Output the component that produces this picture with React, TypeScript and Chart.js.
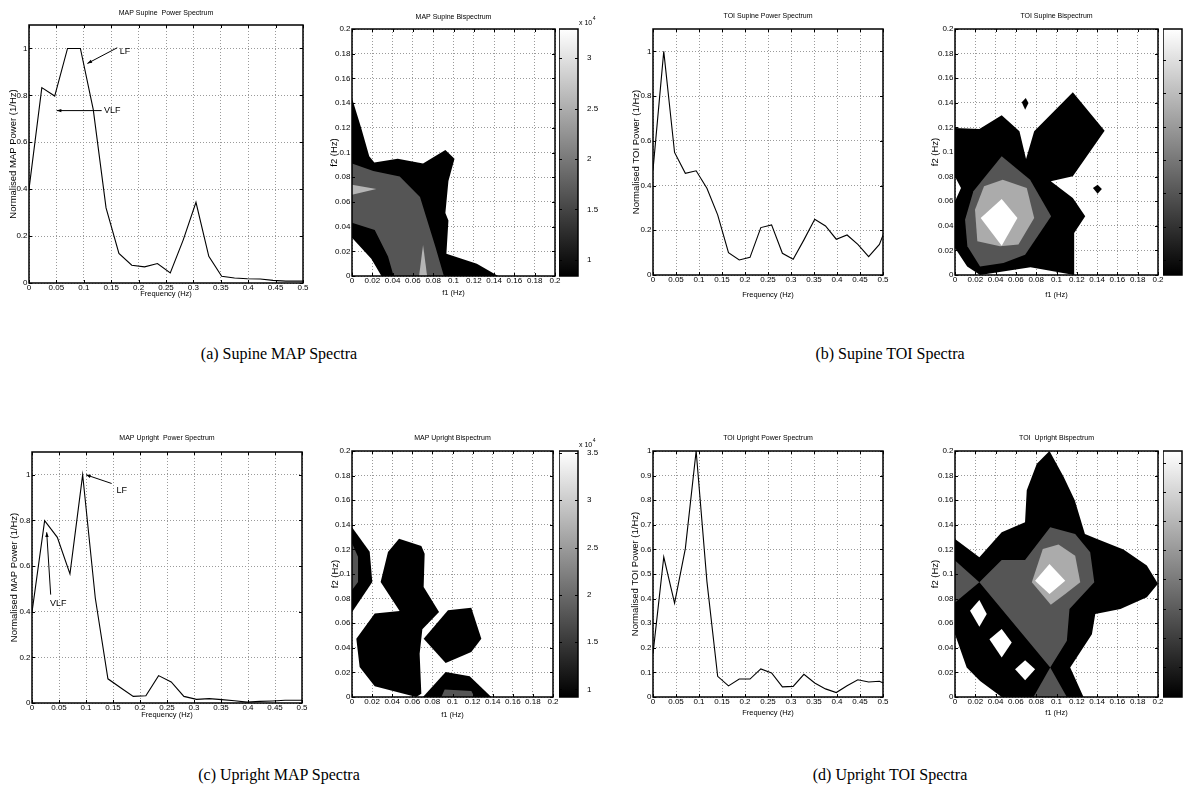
import React, { useEffect, useRef } from 'react';
import { Chart, registerables } from 'chart.js';

Chart.register(...registerables);

// ------------------------------------------------------------------ data
const FREQ = [0, 0.0234, 0.0469, 0.0703, 0.0938, 0.1172, 0.1406, 0.1641, 0.1875, 0.2109, 0.2344, 0.2578, 0.2813, 0.3047, 0.3281, 0.3516, 0.375, 0.3984, 0.4219, 0.4453, 0.4688, 0.4922, 0.5156];
const MAP_SUPINE_POWER = [0.40, 0.833, 0.797, 1.0, 1.0, 0.74, 0.32, 0.126, 0.076, 0.069, 0.083, 0.043, 0.183, 0.344, 0.114, 0.029, 0.021, 0.018, 0.017, 0.011, 0.008, 0.008, 0.008];
const MAP_UPRIGHT_POWER = [0.398, 0.799, 0.726, 0.566, 1.0, 0.46, 0.106, 0.067, 0.029, 0.032, 0.12, 0.092, 0.029, 0.016, 0.019, 0.015, 0.01, 0.004, 0.007, 0.009, 0.012, 0.012, 0.012];
const TOI_SUPINE_POWER = [0.47, 1.0, 0.548, 0.455, 0.466, 0.388, 0.269, 0.10, 0.067, 0.079, 0.212, 0.224, 0.097, 0.07, 0.157, 0.249, 0.219, 0.16, 0.179, 0.137, 0.082, 0.137, 0.26];
const TOI_UPRIGHT_POWER = [0.176, 0.569, 0.382, 0.603, 1.0, 0.47, 0.084, 0.045, 0.073, 0.073, 0.114, 0.098, 0.041, 0.043, 0.092, 0.057, 0.033, 0.018, 0.046, 0.07, 0.061, 0.064, 0.045];

const FREQ_TICKS = [0, 0.05, 0.1, 0.15, 0.2, 0.25, 0.3, 0.35, 0.4, 0.45, 0.5];
const POWER_TICKS = [0, 0.2, 0.4, 0.6, 0.8, 1];
const POWER_TICKS_FINE = [0, 0.1, 0.2, 0.3, 0.4, 0.5, 0.6, 0.7, 0.8, 0.9, 1];
const BISPEC_TICKS = [0, 0.02, 0.04, 0.06, 0.08, 0.1, 0.12, 0.14, 0.16, 0.18, 0.2];

const MAP_SUPINE_CB_TICKS = [1, 1.5, 2, 2.5, 3];
const MAP_SUPINE_CB_RANGE = [0.84, 3.29];
const MAP_UPRIGHT_CB_TICKS = [1, 1.5, 2, 2.5, 3, 3.5];
const MAP_UPRIGHT_CB_RANGE = [0.92, 3.52];
const TOI_SUPINE_CB_TICKS = [20, 30, 40, 50, 60, 70, 80];
const TOI_SUPINE_CB_RANGE = [15.5, 89.3];
const TOI_UPRIGHT_CB_TICKS = [30, 40, 50, 60, 70, 80, 90, 100, 110];
const TOI_UPRIGHT_CB_RANGE = [29.7, 114];

// bispectrum contour regions, [f1, f2] in Hz
const MAP_SUPINE_L1 = [[0, 0.144], [0.009, 0.12], [0.017, 0.097], [0.022, 0.092], [0.045, 0.095], [0.07, 0.091], [0.092, 0.102], [0.101, 0.095], [0.095, 0.077], [0.092, 0.051], [0.095, 0.045], [0.093, 0.018], [0.123, 0.01], [0.144, 0], [0.029, 0], [0.019, 0.014], [0, 0.031]];
const MAP_SUPINE_L2 = [[0, 0.091], [0.021, 0.085], [0.047, 0.0805], [0.067, 0.064], [0.073, 0.048], [0.082, 0.024], [0.0905, 0], [0.041, 0], [0.0355, 0.0157], [0.0224, 0.0373], [0, 0.0432]];
const MAP_SUPINE_L3A = [[0, 0.0738], [0.024, 0.0705], [0, 0.0657]];
const MAP_SUPINE_L3B = [[0.0661, 0], [0.07, 0.0251], [0.074, 0]];

const MAP_UPRIGHT_L1A = [[0, 0.138], [0.0176, 0.118], [0.0202, 0.0935], [0, 0.069]];
const MAP_UPRIGHT_L2A = [[0, 0.125], [0.006, 0.114], [0.006, 0.0935], [0, 0.087]];
const MAP_UPRIGHT_L1B = [[0.0474, 0.0699], [0.0285, 0.0935], [0.0358, 0.1179], [0.0468, 0.1287], [0.069, 0.1228], [0.0723, 0.1165], [0.0713, 0.0894], [0.0866, 0.0691], [0.07, 0.055], [0.0673, 0.0352], [0.069, 0.0027], [0.064, 0], [0.0226, 0.0087], [0.0076, 0.0244], [0.0043, 0.0474], [0.0226, 0.0678]];
const MAP_UPRIGHT_L1C = [[0.0713, 0.0474], [0.0955, 0.0705], [0.1187, 0.0726], [0.1287, 0.0474], [0.1187, 0.0366], [0.0932, 0.0276]];
const MAP_UPRIGHT_L1D = [[0.0706, 0], [0.0932, 0.0203], [0.1171, 0.0168], [0.1386, 0]];
const MAP_UPRIGHT_L2B = [[0.0889, 0], [0.0922, 0.006], [0.1187, 0.0049], [0.122, 0]];

const TOI_SUPINE_L1 = [[0, 0.1195], [0.024, 0.1187], [0.046, 0.1298], [0.0635, 0.1168], [0.07, 0.0943], [0.078, 0.1168], [0.1161, 0.1485], [0.1474, 0.1173], [0.1161, 0.0802], [0.0944, 0.0762], [0.1161, 0.0626], [0.1283, 0.0477], [0.1174, 0.0341], [0.1174, 0], [0.0744, 0.0062], [0.0247, 0], [0.012, 0.007], [0, 0.022], [0, 0.0599], [0.0059, 0.0707], [0, 0.0799]];
const TOI_SUPINE_L1B = [[0.0697, 0.1439], [0.0724, 0.1398], [0.0691, 0.1344], [0.0658, 0.1404]];
const TOI_SUPINE_L1C = [[0.1359, 0.0707], [0.1405, 0.0734], [0.1447, 0.0699], [0.1405, 0.0661]];
const TOI_SUPINE_L2 = [[0.0099, 0.045], [0.0181, 0.068], [0.046, 0.0965], [0.074, 0.0775], [0.0947, 0.0477], [0.0691, 0.0165], [0.0477, 0.0098], [0.0247, 0.007], [0.0122, 0.0233]];
const TOI_SUPINE_L3 = [[0.0197, 0.0531], [0.0286, 0.0721], [0.047, 0.0775], [0.0707, 0.0707], [0.078, 0.0463], [0.0625, 0.0247], [0.0444, 0.0233], [0.022, 0.0274]];
const TOI_SUPINE_L4 = [[0.0253, 0.0463], [0.046, 0.0618], [0.0615, 0.0463], [0.046, 0.0238]];

const TOI_UPRIGHT_L1 = [[0.0931, 0.2], [0.0806, 0.1897], [0.0707, 0.168], [0.069, 0.142], [0.046, 0.134], [0.024, 0.1136], [0, 0.1285], [0, 0.051], [0.0115, 0.0239], [0.0247, 0.013], [0.046, 0], [0.1266, 0], [0.1135, 0.0239], [0.1349, 0.0511], [0.1382, 0.0674], [0.163, 0.0715], [0.189, 0.081], [0.2, 0.092], [0.189, 0.107], [0.166, 0.12], [0.14, 0.1285], [0.128, 0.1326], [0.118, 0.16], [0.107, 0.179]];
const TOI_UPRIGHT_L2A = [[0.024, 0.0932], [0.046, 0.1114], [0.069, 0.1114], [0.0938, 0.138], [0.1184, 0.1326], [0.1332, 0.1177], [0.1372, 0.0932], [0.1128, 0.0715], [0.1102, 0.0457], [0.0938, 0.0239]];
const TOI_UPRIGHT_L2B = [[0, 0.1109], [0.024, 0.0932], [0, 0.0769]];
const TOI_UPRIGHT_L2C = [[0.0938, 0.0239], [0.1102, 0], [0.0773, 0]];
const TOI_UPRIGHT_L3 = [[0.0757, 0.0932], [0.0865, 0.1204], [0.102, 0.1239], [0.1184, 0.1149], [0.1234, 0.0932], [0.1086, 0.0837], [0.0944, 0.075]];
const TOI_UPRIGHT_L4 = [[0.0789, 0.0946], [0.0931, 0.1082], [0.1086, 0.0946], [0.0931, 0.0837]];
const TOI_UPRIGHT_W1 = [[0.0148, 0.0701], [0.024, 0.0788], [0.0313, 0.0674], [0.024, 0.0571]];
const TOI_UPRIGHT_W2 = [[0.0339, 0.047], [0.046, 0.0552], [0.0559, 0.0443], [0.046, 0.0321]];
const TOI_UPRIGHT_W3 = [[0.0592, 0.0226], [0.0691, 0.0299], [0.0789, 0.0226], [0.0691, 0.0136]];

const MAP_SUPINE_NOTES = [
  { label: 'LF', tx: 0.175, ty: 0.987, x1: 0.161, y1: 1.003, x2: 0.1065, y2: 0.936 },
  { label: 'VLF', tx: 0.152, ty: 0.735, x1: 0.1326, y1: 0.735, x2: 0.0505, y2: 0.735 },
];
const MAP_UPRIGHT_NOTES = [
  { label: 'LF', tx: 0.166, ty: 0.93, x1: 0.1475, y1: 0.962, x2: 0.1, y2: 1.0 },
  { label: 'VLF', tx: 0.0488, ty: 0.435, x1: 0.0346, y1: 0.475, x2: 0.0272, y2: 0.748 },
];

const CAPTIONS = ['(a) Supine MAP Spectra', '(b) Supine TOI Spectra', '(c) Upright MAP Spectra', '(d) Upright TOI Spectra'];

// ------------------------------------------------------------------ styles
const NARROW = "'Liberation Sans Narrow', 'Arial Narrow', 'Liberation Sans', Arial, sans-serif";
const SANS = "'Liberation Sans', Arial, sans-serif";
const SERIF = "'Liberation Serif', 'Times New Roman', Times, serif";
const GRID = '#9a9a9a';
const C_BLACK = '#000000';
const C_DARK = '#555555';
const C_LIGHT = '#ababab';
const C_WHITE = '#ffffff';

const fmt = (v: any) => String(parseFloat(Number(v).toFixed(4)));

// ------------------------------------------------------------------ plugins
const framePlugin = {
  id: 'frame',
  afterDatasetsDraw(chart: any, _args: any, opts: any) {
    const { ctx, chartArea: a } = chart;
    const len = 3;
    ctx.save();
    ctx.strokeStyle = '#000';
    ctx.lineWidth = 1;
    ctx.beginPath();
    const xs = chart.scales.x;
    const ys = chart.scales.y;
    if (opts.xTicks !== false && xs) {
      for (const t of xs.ticks) {
        const p = Math.round(xs.getPixelForValue(t.value)) + 0.5;
        ctx.moveTo(p, a.bottom); ctx.lineTo(p, a.bottom - len);
        ctx.moveTo(p, a.top); ctx.lineTo(p, a.top + len);
      }
    }
    if (ys) {
      for (const t of ys.ticks) {
        const p = Math.round(ys.getPixelForValue(t.value)) + 0.5;
        ctx.moveTo(a.left, p); ctx.lineTo(a.left + len, p);
        ctx.moveTo(a.right, p); ctx.lineTo(a.right - len, p);
      }
    }
    ctx.stroke();
    ctx.lineWidth = opts.width || 1.5;
    ctx.strokeRect(a.left, a.top, a.right - a.left, a.bottom - a.top);
    ctx.restore();
  },
};

function notesPlugin(items: any[]) {
  return {
    id: 'notes',
    afterDatasetsDraw(chart: any) {
      const { ctx } = chart;
      const xs = chart.scales.x;
      const ys = chart.scales.y;
      ctx.save();
      ctx.strokeStyle = '#000';
      ctx.fillStyle = '#000';
      ctx.lineWidth = 1;
      for (const n of items) {
        const x1 = xs.getPixelForValue(n.x1), y1 = ys.getPixelForValue(n.y1);
        const x2 = xs.getPixelForValue(n.x2), y2 = ys.getPixelForValue(n.y2);
        ctx.beginPath(); ctx.moveTo(x1, y1); ctx.lineTo(x2, y2); ctx.stroke();
        const ang = Math.atan2(y2 - y1, x2 - x1);
        ctx.beginPath();
        ctx.moveTo(x2, y2);
        ctx.lineTo(x2 - 5 * Math.cos(ang - 0.35), y2 - 5 * Math.sin(ang - 0.35));
        ctx.lineTo(x2 - 5 * Math.cos(ang + 0.35), y2 - 5 * Math.sin(ang + 0.35));
        ctx.closePath(); ctx.fill();
        ctx.font = `9px ${NARROW}`;
        ctx.textAlign = 'center';
        ctx.textBaseline = 'middle';
        ctx.fillText(n.label, xs.getPixelForValue(n.tx), ys.getPixelForValue(n.ty));
      }
      ctx.restore();
    },
  };
}

function expPlugin(show: boolean) {
  return {
    id: 'expLabel',
    afterDraw(chart: any) {
      if (!show) return;
      const { ctx, chartArea: a } = chart;
      ctx.save();
      ctx.fillStyle = '#000';
      ctx.textAlign = 'left';
      ctx.textBaseline = 'middle';
      ctx.font = `7px ${NARROW}`;
      ctx.fillText('x 10', a.right + 1, a.top - 6);
      const w = ctx.measureText('x 10').width;
      ctx.font = `5px ${NARROW}`;
      ctx.fillText('4', a.right + 1.5 + w, a.top - 10);
      ctx.restore();
    },
  };
}

// ------------------------------------------------------------------ layout
type Geo = { L: number; T: number; R: number; B: number; titleY: number; yTitleX: number; xTitleY: number };
const PAD_R = 12;

function boxFor(g: Geo) {
  const x = g.yTitleX - 8;
  const y = g.titleY - 6;
  return { x, y, w: g.R + PAD_R - x, h: g.xTitleY + 7 - y };
}

function axis(isX: boolean, ticks: number[], min: number, max: number, title: string, g: Geo, box: any) {
  return {
    type: 'linear',
    min,
    max,
    afterBuildTicks: (s: any) => { s.ticks = ticks.map((v) => ({ value: v })); },
    afterFit: (s: any) => {
      if (isX) s.height = box.y + box.h - g.B;
      else s.width = g.L - box.x;
    },
    grid: { color: GRID, lineWidth: 1, drawTicks: false },
    border: { display: false, dash: [1, 2] },
    ticks: {
      autoSkip: false,
      maxRotation: 0,
      minRotation: 0,
      padding: isX ? 1 : 1.5,
      color: '#000',
      font: { family: NARROW, size: 8, lineHeight: 1 },
      callback: (v: any) => fmt(v),
    },
    title: {
      display: true,
      text: title,
      color: '#000',
      font: isX ? { family: NARROW, size: 7.5, lineHeight: 1 } : { family: SANS, size: 9.5, lineHeight: 1 },
      padding: isX ? { top: 0, bottom: 3 } : { top: 3.25, bottom: 0 },
    },
  };
}

function baseOptions(g: Geo, box: any, title: string, scales: any) {
  return {
    responsive: false,
    animation: false,
    devicePixelRatio: 1,
    events: [],
    layout: { padding: { left: 0, top: 0, right: PAD_R, bottom: 0 } },
    plugins: {
      legend: { display: false },
      tooltip: { enabled: false },
      frame: { width: 1.5 },
      title: {
        display: true,
        text: title,
        color: '#000',
        fullSize: false,
        font: { family: NARROW, size: 7, lineHeight: 1, weight: 'normal' },
        padding: { top: 2.5, bottom: g.T - box.y - 9.5 },
      },
    },
    scales,
  };
}

function spectrumConfig(g: Geo, title: string, ylabel: string, values: number[], yTicks: number[], yMax: number, notes: any[]) {
  const box = boxFor(g);
  return {
    box,
    make: () => ({
      type: 'line',
      data: {
        datasets: [{
          data: FREQ.map((f, i) => ({ x: f, y: values[i] })),
          borderColor: '#000',
          borderWidth: 1.1,
          pointRadius: 0,
          fill: false,
          tension: 0,
        }],
      },
      options: baseOptions(g, box, title, {
        x: axis(true, FREQ_TICKS, 0, 0.5, 'Frequency (Hz)', g, box),
        y: axis(false, yTicks, 0, yMax, ylabel, g, box),
      }),
      plugins: [framePlugin, notesPlugin(notes)],
    }),
  };
}

function contourConfig(g: Geo, title: string, layers: { pts: number[][]; color: string }[]) {
  const box = boxFor(g);
  const n = layers.length;
  return {
    box,
    make: () => ({
      type: 'line',
      data: {
        datasets: layers.map((l, i) => ({
          data: l.pts.map(([x, y]) => ({ x, y })),
          backgroundColor: l.color,
          borderColor: l.color,
          borderWidth: 0,
          pointRadius: 0,
          fill: 'shape',
          tension: 0,
          order: n - i,
        })),
      },
      options: baseOptions(g, box, title, {
        x: axis(true, BISPEC_TICKS, 0, 0.2, 'f1 (Hz)', g, box),
        y: axis(false, BISPEC_TICKS, 0, 0.2, 'f2 (Hz)', g, box),
      }),
      plugins: [framePlugin],
    }),
  };
}

type CB = { L: number; T: number; R: number; B: number };
function colorbarConfig(cb: CB, ticks: number[], range: number[], labelSize: number, labelPad: number, showExp: boolean) {
  const box = { x: cb.L, y: cb.T - 14, w: cb.R - cb.L + 24, h: cb.B - cb.T + 20 };
  return {
    box,
    make: () => ({
      type: 'bar',
      data: {
        labels: [''],
        datasets: [{
          data: [[range[0], range[1]]],
          borderWidth: 0,
          barPercentage: 1,
          categoryPercentage: 1,
          backgroundColor: (c: any) => {
            const a = c.chart.chartArea;
            if (!a) return '#888';
            const gr = c.chart.ctx.createLinearGradient(0, a.bottom, 0, a.top);
            gr.addColorStop(0, '#000');
            gr.addColorStop(1, '#fff');
            return gr;
          },
        }],
      },
      options: {
        responsive: false,
        animation: false,
        devicePixelRatio: 1,
        events: [],
        layout: { padding: { left: 0, right: 0, top: 14, bottom: 6 } },
        plugins: { legend: { display: false }, tooltip: { enabled: false }, frame: { xTicks: false, width: 1.5 } },
        scales: {
          x: { display: false },
          y: {
            position: 'right',
            min: range[0],
            max: range[1],
            afterBuildTicks: (s: any) => { s.ticks = ticks.map((v) => ({ value: v })); },
            afterFit: (s: any) => { s.width = 24; },
            grid: { display: false },
            border: { display: false },
            ticks: { autoSkip: false, padding: labelPad, color: '#000', font: { family: NARROW, size: labelSize, lineHeight: 1 }, callback: (v: any) => fmt(v) },
          },
        },
      },
      plugins: [framePlugin, expPlugin(showExp)],
    }),
  };
}

// ------------------------------------------------------------------ panels
const G1: Geo = { L: 29, T: 25, R: 303, B: 283, titleY: 13, yTitleX: 13, xTitleY: 294 };
const G2: Geo = { L: 352, T: 29, R: 555, B: 276, titleY: 17, yTitleX: 334, xTitleY: 293 };
const G3: Geo = { L: 653, T: 29, R: 883, B: 275, titleY: 16, yTitleX: 636, xTitleY: 295 };
const G4: Geo = { L: 955, T: 29, R: 1158, B: 275, titleY: 16, yTitleX: 935, xTitleY: 295 };
const G5: Geo = { L: 32, T: 452, R: 302, B: 703, titleY: 438, yTitleX: 14, xTitleY: 715 };
const G6: Geo = { L: 352, T: 451, R: 553, B: 697, titleY: 438, yTitleX: 335, xTitleY: 715 };
const G7: Geo = { L: 653, T: 451, R: 883, B: 697, titleY: 438, yTitleX: 635, xTitleY: 713 };
const G8: Geo = { L: 955, T: 451, R: 1158, B: 697, titleY: 438, yTitleX: 935, xTitleY: 713 };
const CB2: CB = { L: 559, T: 29, R: 578, B: 276 };
const CB4: CB = { L: 1163, T: 29, R: 1182, B: 275 };
const CB6: CB = { L: 559, T: 451, R: 578, B: 697 };
const CB8: CB = { L: 1163, T: 451, R: 1182, B: 697 };
const CAPTION_POS = [{ cx: 279, cy: 354 }, { cx: 890, cy: 354 }, { cx: 279, cy: 775 }, { cx: 890, cy: 775 }];

const PANELS = [
  spectrumConfig(G1, 'MAP Supine  Power Spectrum', 'Normalised MAP Power (1/Hz)', MAP_SUPINE_POWER, POWER_TICKS, 1.1, MAP_SUPINE_NOTES),
  contourConfig(G2, 'MAP Supine Bispectrum', [
    { pts: MAP_SUPINE_L1, color: C_BLACK },
    { pts: MAP_SUPINE_L2, color: C_DARK },
    { pts: MAP_SUPINE_L3A, color: '#b5b5b5' },
    { pts: MAP_SUPINE_L3B, color: '#b5b5b5' },
  ]),
  colorbarConfig(CB2, MAP_SUPINE_CB_TICKS, MAP_SUPINE_CB_RANGE, 8, 1, true),
  spectrumConfig(G3, 'TOI Supine Power Spectrum', 'Normalised TOI Power (1/Hz)', TOI_SUPINE_POWER, POWER_TICKS, 1.1, []),
  contourConfig(G4, 'TOI Supine Bispectrum', [
    { pts: TOI_SUPINE_L1, color: C_BLACK },
    { pts: TOI_SUPINE_L1B, color: C_BLACK },
    { pts: TOI_SUPINE_L1C, color: C_BLACK },
    { pts: TOI_SUPINE_L2, color: C_DARK },
    { pts: TOI_SUPINE_L3, color: C_LIGHT },
    { pts: TOI_SUPINE_L4, color: C_WHITE },
  ]),
  colorbarConfig(CB4, TOI_SUPINE_CB_TICKS, TOI_SUPINE_CB_RANGE, 3, 1, false),
  spectrumConfig(G5, 'MAP Upright  Power Spectrum', 'Normalised MAP Power (1/Hz)', MAP_UPRIGHT_POWER, POWER_TICKS, 1.1, MAP_UPRIGHT_NOTES),
  contourConfig(G6, 'MAP Upright Bispectrum', [
    { pts: MAP_UPRIGHT_L1A, color: C_BLACK },
    { pts: MAP_UPRIGHT_L2A, color: C_DARK },
    { pts: MAP_UPRIGHT_L1B, color: C_BLACK },
    { pts: MAP_UPRIGHT_L1C, color: C_BLACK },
    { pts: MAP_UPRIGHT_L1D, color: C_BLACK },
    { pts: MAP_UPRIGHT_L2B, color: C_DARK },
  ]),
  colorbarConfig(CB6, MAP_UPRIGHT_CB_TICKS, MAP_UPRIGHT_CB_RANGE, 8, 1, true),
  spectrumConfig(G7, 'TOI Upright Power Spectrum', 'Normalised TOI Power (1/Hz)', TOI_UPRIGHT_POWER, POWER_TICKS_FINE, 1.0, []),
  contourConfig(G8, 'TOI  Upright Bispectrum', [
    { pts: TOI_UPRIGHT_L1, color: C_BLACK },
    { pts: TOI_UPRIGHT_L2A, color: C_DARK },
    { pts: TOI_UPRIGHT_L2B, color: C_DARK },
    { pts: TOI_UPRIGHT_L2C, color: C_DARK },
    { pts: TOI_UPRIGHT_L3, color: C_LIGHT },
    { pts: TOI_UPRIGHT_L4, color: C_WHITE },
    { pts: TOI_UPRIGHT_W1, color: C_WHITE },
    { pts: TOI_UPRIGHT_W2, color: C_WHITE },
    { pts: TOI_UPRIGHT_W3, color: C_WHITE },
  ]),
  colorbarConfig(CB8, TOI_UPRIGHT_CB_TICKS, TOI_UPRIGHT_CB_RANGE, 8, 0, false),
];

// ------------------------------------------------------------------ components
function ChartBox({ box, make }: { box: any; make: () => any }) {
  const ref = useRef<HTMLCanvasElement | null>(null);
  useEffect(() => {
    if (!ref.current) return;
    const chart = new Chart(ref.current, make());
    return () => chart.destroy();
  }, []);
  return (
    <canvas
      ref={ref}
      width={box.w}
      height={box.h}
      style={{ position: 'absolute', left: box.x, top: box.y, width: box.w, height: box.h }}
    />
  );
}

export default function App() {
  return (
    <div style={{ position: 'absolute', left: 0, top: 0, width: 1189, height: 794, overflow: 'hidden', background: '#fff' }}>
      {PANELS.map((p, i) => (
        <ChartBox key={i} box={p.box} make={p.make} />
      ))}
      {CAPTIONS.map((t, i) => (
        <div
          key={t}
          style={{
            position: 'absolute',
            left: CAPTION_POS[i].cx - 150,
            top: CAPTION_POS[i].cy - 9,
            width: 300,
            lineHeight: '18px',
            textAlign: 'center',
            fontFamily: SERIF,
            fontSize: 16,
            color: '#000',
            whiteSpace: 'nowrap',
          }}
        >
          {t}
        </div>
      ))}
    </div>
  );
}
